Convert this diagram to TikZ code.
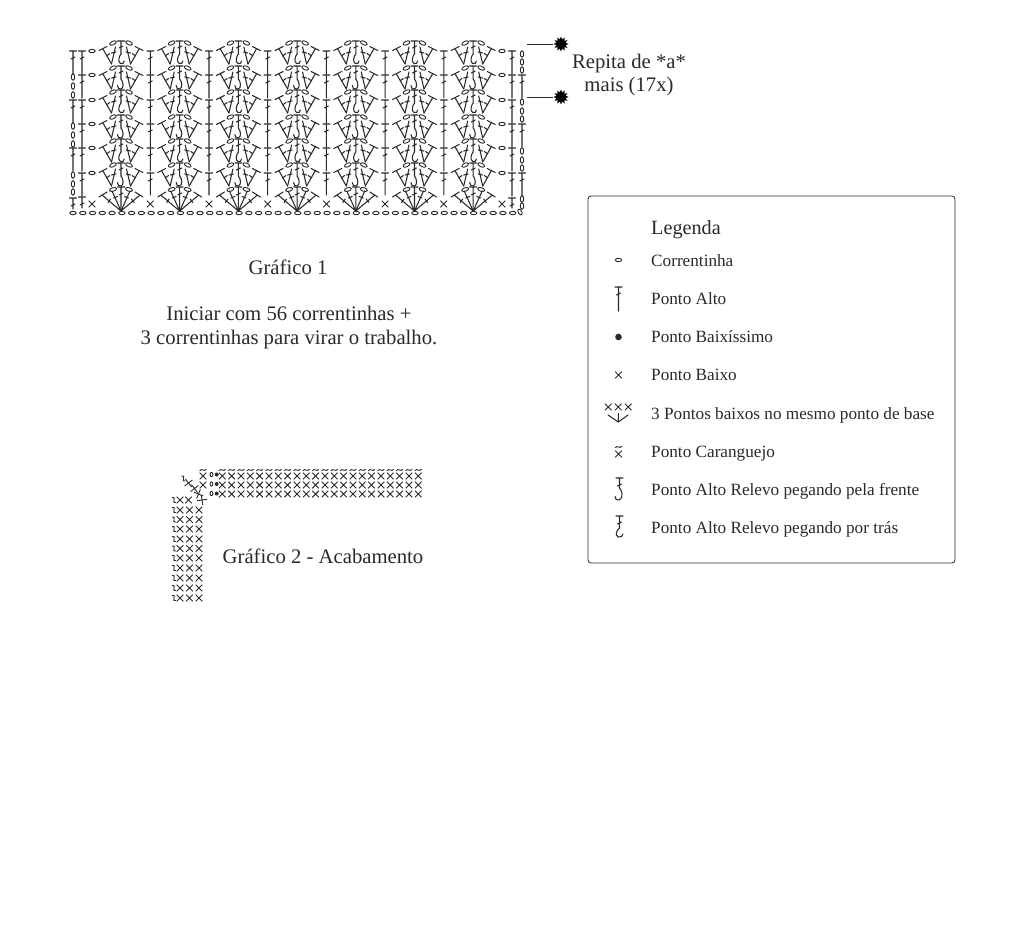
\documentclass[tikz,border=0pt]{standalone}
\usepackage{fontspec}
\setmainfont{Liberation Serif}
\usetikzlibrary{shapes.geometric}
\definecolor{ink}{HTML}{2a2a2a}
\tikzset{
  x=1pt,y=-1pt,
  st/.style={draw=ink,line width=1.05pt,line cap=round},
  thinst/.style={draw=ink,line width=0.9pt},
  lab/.style={inner sep=0,anchor=base,text=ink,font=\fontsize{20.7}{20.7}\selectfont},
  leglab/.style={inner sep=0,anchor=base west,text=ink,font=\fontsize{17.2}{17.2}\selectfont},
  burst/.style={star,star points=12,star point ratio=1.6,minimum size=15pt,inner sep=0,fill=black,draw=none},
  boxed/.style={draw=ink,line width=0.8pt,rounded corners=3pt},
}
\newcommand{\chn}[3]{\draw[thinst,rotate around={#3:(#1,#2)}] (#1,#2) ellipse [x radius=3.2,y radius=1.7];}
\newcommand{\trb}[3]{\draw[st] (#1-3.5,#2)--(#1+3.5,#2) (#1,#2)--(#1,#3) (#1-2,#2+8)--(#1+2,#2+6);}
\newcommand{\crs}[3][3.3]{\draw[thinst] (#2-#1,#3-#1)--(#2+#1,#3+#1) (#2-#1,#3+#1)--(#2+#1,#3-#1);}
\newcommand{\halffan}{%
  \draw[st] (-9.5,23)--(-18,8) (-22,9.5)--(-14,5.5) (-14.5,15)--(-11.2,12.5);
  \draw[st] (-9.5,23)--(-5.5,6) (-9.5,12)--(-5,11);
  \draw[thinst,rotate around={25:(-8,2)}] (-8,2) ellipse [x radius=3.6,y radius=1.8];
}
\newcommand{\fanrow}[3]{%
  \begin{scope}[shift={(#1,#2)}]
  \halffan
  \begin{scope}[xscale=-1]\halffan\end{scope}
  \draw[st] (-3.5,0)--(3.5,0) (0,0)--(0,13) (-2,7)--(2,5);
  \ifnum#3=1
    \draw[st] (0,13) .. controls (2.5,16) and (3,22) .. (0,23) .. controls (-2,23.5) and (-3.5,22) .. (-3.5,19.5);
  \else
    \draw[st] (0,13) .. controls (-2,15) and (-3.5,21) .. (-0.5,22.5) .. controls (1.5,23.5) and (3,22) .. (3.2,20);
  \fi
  \end{scope}
}
\newcommand{\halfbase}{%
  \draw[st] (0,24)--(-19,8) (0,24)--(-9,4) (-22,10)--(-14,5) (-13,15.5)--(-10.5,12) (-7.5,11)--(-3.5,9.5);
  \draw[thinst,rotate around={18:(-8,2.5)}] (-8,2.5) ellipse [x radius=3.6,y radius=1.8];
}
\newcommand{\basefan}[2]{%
  \begin{scope}[shift={(#1,#2)}]
  \halfbase
  \begin{scope}[xscale=-1]\halfbase\end{scope}
  \draw[st] (-3.5,0)--(3.5,0) (0,0)--(0,24) (-2,8)--(2,6);
  \end{scope}
}
\newcommand{\rtilde}[2]{\draw[thinst] (#1-3.3,#2+0.8) .. controls (#1-1.5,#2-2.5) and (#1+1.5,#2+2.5) .. (#1+3.3,#2-0.8);}
\newcommand{\vtilde}[2]{\draw[thinst] (#1-2,#2-2.5) .. controls (#1+3.5,#2-4.5) and (#1-3.5,#2+4.5) .. (#1+2,#2+2.5);}
\newcommand{\zer}[2]{\draw[thinst] (#1,#2) ellipse [x radius=1.4,y radius=2.2];}
\begin{document}
\begin{tikzpicture}
\useasboundingbox (0,0) rectangle (1024,932);
\fill[white] (0,0) rectangle (1024,932);
% ---------- chart 1 ----------
\foreach \cx in {121,179.7,238.4,297.1,355.8,414.5,473.2}{
  \foreach \ty/\h in {41/0,66/1,90/0,115/1,139/0,163/1}{\fanrow{\cx}{\ty}{\h}}
  \basefan{\cx}{187}
}
\foreach \cx in {150.3,209,267.7,326.4,385.1,443.8}{
  \foreach \ty in {51,75,100,124,148}{\trb{\cx}{\ty}{\ty+23}}
  \trb{\cx}{173}{195}
  \crs{\cx}{204}
}
\foreach \ty in {51,75,100,124,148,173}{\trb{82}{\ty}{\ty+23}\trb{512}{\ty}{\ty+23}}
\trb{82}{197}{208}\trb{512}{198}{208}
\foreach \ty in {51,100,148}{\trb{73}{\ty}{\ty+23}}
\trb{73}{198}{209}
\foreach \ty in {75,124,173}{\trb{522}{\ty}{\ty+23}}
\foreach \ty in {77,86,95,126,135,144,175,184,192}{\chn{73}{\ty}{90}}
\foreach \ty in {54,62,70,102,111,119,151,160,168,199,206}{\chn{522}{\ty}{90}}
\foreach \ty in {51,75,100,124,148,173}{\chn{92}{\ty}{0}\chn{502}{\ty}{0}}
\crs{92}{204}\crs{502}{204}
\foreach \i in {0,...,45}{\chn{73+\i*9.77}{213}{0}}
\chn{520}{212}{-60}
% markers
\node[burst] (m1) at (561,44) {};
\node[burst] (m2) at (561,97) {};
\coordinate (s1) at (527,44);
\coordinate (s2) at (527,97);
\draw[thinst] (s1)--(m1);
\draw[thinst] (s2)--(m2);
\node[lab] (rep1) at (629,68.5) {Repita de *a*};
\node[lab] (rep2) at (629,91.5) {mais (17x)};
\node[lab] (g1) at (288,274.5) {Gráfico 1};
\node[lab] (ini1) at (289,320.5) {Iniciar com 56 correntinhas +};
\node[lab] (ini2) at (289,344.5) {3 correntinhas para virar o trabalho.};
% ---------- chart 2 ----------
\node[lab] (g2) at (323,563.5) {Gráfico 2 - Acabamento};
\foreach \yy in {476,485,494}{\foreach \i in {0,...,21}{\crs{222.3+\i*9.33}{\yy}}}
\foreach \i in {0,...,21}{\rtilde{222.3+\i*9.33}{470}}
\rtilde{203}{470}
\crs{203}{476}\crs{203}{485}
\foreach \yy in {474.5,484,493.5}{\fill[ink] (216.7,\yy) circle (2);\zer{211.5}{\yy}}
\foreach \yy in {510,519.5,529,539,548.5,558,568,578,588,598}{
  \foreach \xx in {180,189.5,199}{\crs{\xx}{\yy}}\vtilde{174}{\yy}}
\crs{180}{500}\crs{188.5}{500}\vtilde{174}{500}
\vtilde{183.5}{478.5}
\foreach \xx/\yy/\aa in {188.5/483/38,194.5/488.5/38,198.5/494/68,202/500/8}{
  \draw[thinst,rotate around={\aa:(\xx,\yy)}] (\xx-5,\yy)--(\xx+5,\yy) (\xx,\yy-5)--(\xx,\yy+5);
}
% ---------- legend ----------
\node[boxed,minimum width=367pt,minimum height=367pt,inner sep=0] (box) at (771.5,379.5) {};
\node[leglab,font=\fontsize{20.2}{20.2}\selectfont] (lt) at (651,234.3) {Legenda};
\node[leglab] (l1) at (651,266.3) {Correntinha};
\node[leglab] (l2) at (651,304.3) {Ponto Alto};
\node[leglab] (l3) at (651,342.3) {Ponto Baixíssimo};
\node[leglab] (l4) at (651,380.3) {Ponto Baixo};
\node[leglab] (l5) at (651,419.3) {3 Pontos baixos no mesmo ponto de base};
\node[leglab] (l6) at (651,457.3) {Ponto Caranguejo};
\node[leglab] (l7) at (651,495.3) {Ponto Alto Relevo pegando pela frente};
\node[leglab] (l8) at (651,533.3) {Ponto Alto Relevo pegando por trás};
\chn{618.5}{260}{0}
\trb{618.5}{287}{311}
\fill[ink] (618.5,337) circle (3.3);
\crs{618.5}{375}
\crs{608.3}{407}\crs{618.3}{407}\crs{628.3}{407}
\draw[st] (608,415)--(618.3,422)--(628,415) (618.3,413.5)--(618.3,422);
\rtilde{618.5}{447}\crs{618.5}{454}
\draw[st] (616,478)--(623,478) (619.5,478)--(619.5,488) (617.5,486)--(621.5,484);
\draw[st] (619.5,488) .. controls (622,490) and (624,498) .. (619,500) .. controls (616.5,500.5) and (615,499) .. (615,496.5);
\draw[st] (616,516)--(623,516) (619.5,516)--(619.5,528) (617.5,524)--(621.5,522);
\draw[st] (619.5,528) .. controls (617,530) and (614,535) .. (618.5,537) .. controls (621,537.5) and (623,536) .. (623,534);
\end{tikzpicture}
\end{document}
